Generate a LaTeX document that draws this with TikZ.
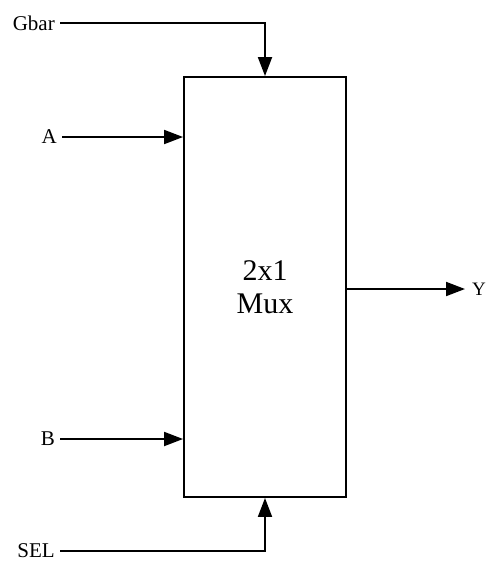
\documentclass[tikz,border=0pt]{standalone}
\usepackage{fontspec}
\setmainfont{Liberation Serif}
\usetikzlibrary{positioning,arrows.meta}
\tikzset{
    muxbox/.style={draw,line width=1.9pt,minimum width=162pt,minimum height=420pt,
        align=center,font=\fontsize{30}{33}\selectfont},
    sig/.style={font=\fontsize{21}{24}\selectfont,inner xsep=5pt,inner ysep=0pt},
    wire/.style={draw,line width=1.9pt,-{Triangle[length=19pt,width=14pt]}},
}
\begin{document}
\begin{tikzpicture}[x=1pt,y=1pt]
    \useasboundingbox (0,0) rectangle (489,-565);
    \node[muxbox] (mux) at (265,-287) {2x1\\Mux};
    \node[sig,anchor=east] (gbar) at (60,-23) {Gbar};
    \node[sig,anchor=east] (a) at (62,-137) {A};
    \node[sig,anchor=east] (b) at (60,-439) {B};
    \node[sig,anchor=east] (sel) at (60,-551) {SEL};
    \node[sig,anchor=west,inner xsep=0pt,font=\fontsize{19}{22}\selectfont] (y) at (472,-289) {Y};

    \path[wire] (gbar.east) -| (mux.north);
    \path[wire] (a.east) -- (mux.west |- a.east);
    \path[wire] (b.east) -- (mux.west |- b.east);
    \path[wire] (sel.east) -| (mux.south);
    \draw[wire,shorten >=7pt] (mux.east |- y.west) -- (y.west);
\end{tikzpicture}
\end{document}
